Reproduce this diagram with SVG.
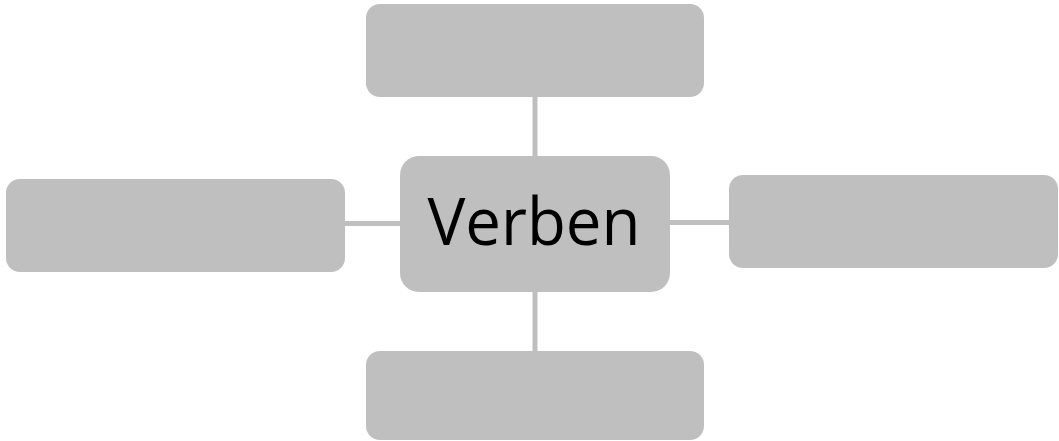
<svg xmlns="http://www.w3.org/2000/svg" width="1059" height="441" viewBox="0 0 1059 441">
<style>
.box{fill:#bfbfbf;}
.conn{stroke:#bfbfbf;stroke-width:5;fill:none;}
.lbl{font-family:"Open Sans","Liberation Sans",Arial,sans-serif;font-size:66px;fill:#000;}
</style>
<rect width="1059" height="441" fill="#ffffff"/>
<g id="connectors">
<line class="conn" x1="535" y1="97" x2="535" y2="156"/>
<line class="conn" x1="535" y1="292" x2="535" y2="351"/>
<line class="conn" x1="345" y1="223.5" x2="400" y2="223.5"/>
<line class="conn" x1="670" y1="222.5" x2="729" y2="222.5"/>
</g>
<g id="node-top"><rect class="box" x="366" y="4" width="338" height="93" rx="14"/></g>
<g id="node-left"><rect class="box" x="6" y="179" width="339" height="93" rx="14"/></g>
<g id="node-right"><rect class="box" x="729" y="175" width="329" height="93" rx="14"/></g>
<g id="node-bottom"><rect class="box" x="366" y="351" width="338" height="89" rx="14"/></g>
<g id="node-center"><rect class="box" x="400" y="156" width="270" height="136" rx="19"/>
<text class="lbl" x="534" y="245" text-anchor="middle" textLength="213" lengthAdjust="spacingAndGlyphs">Verben</text></g>
</svg>
